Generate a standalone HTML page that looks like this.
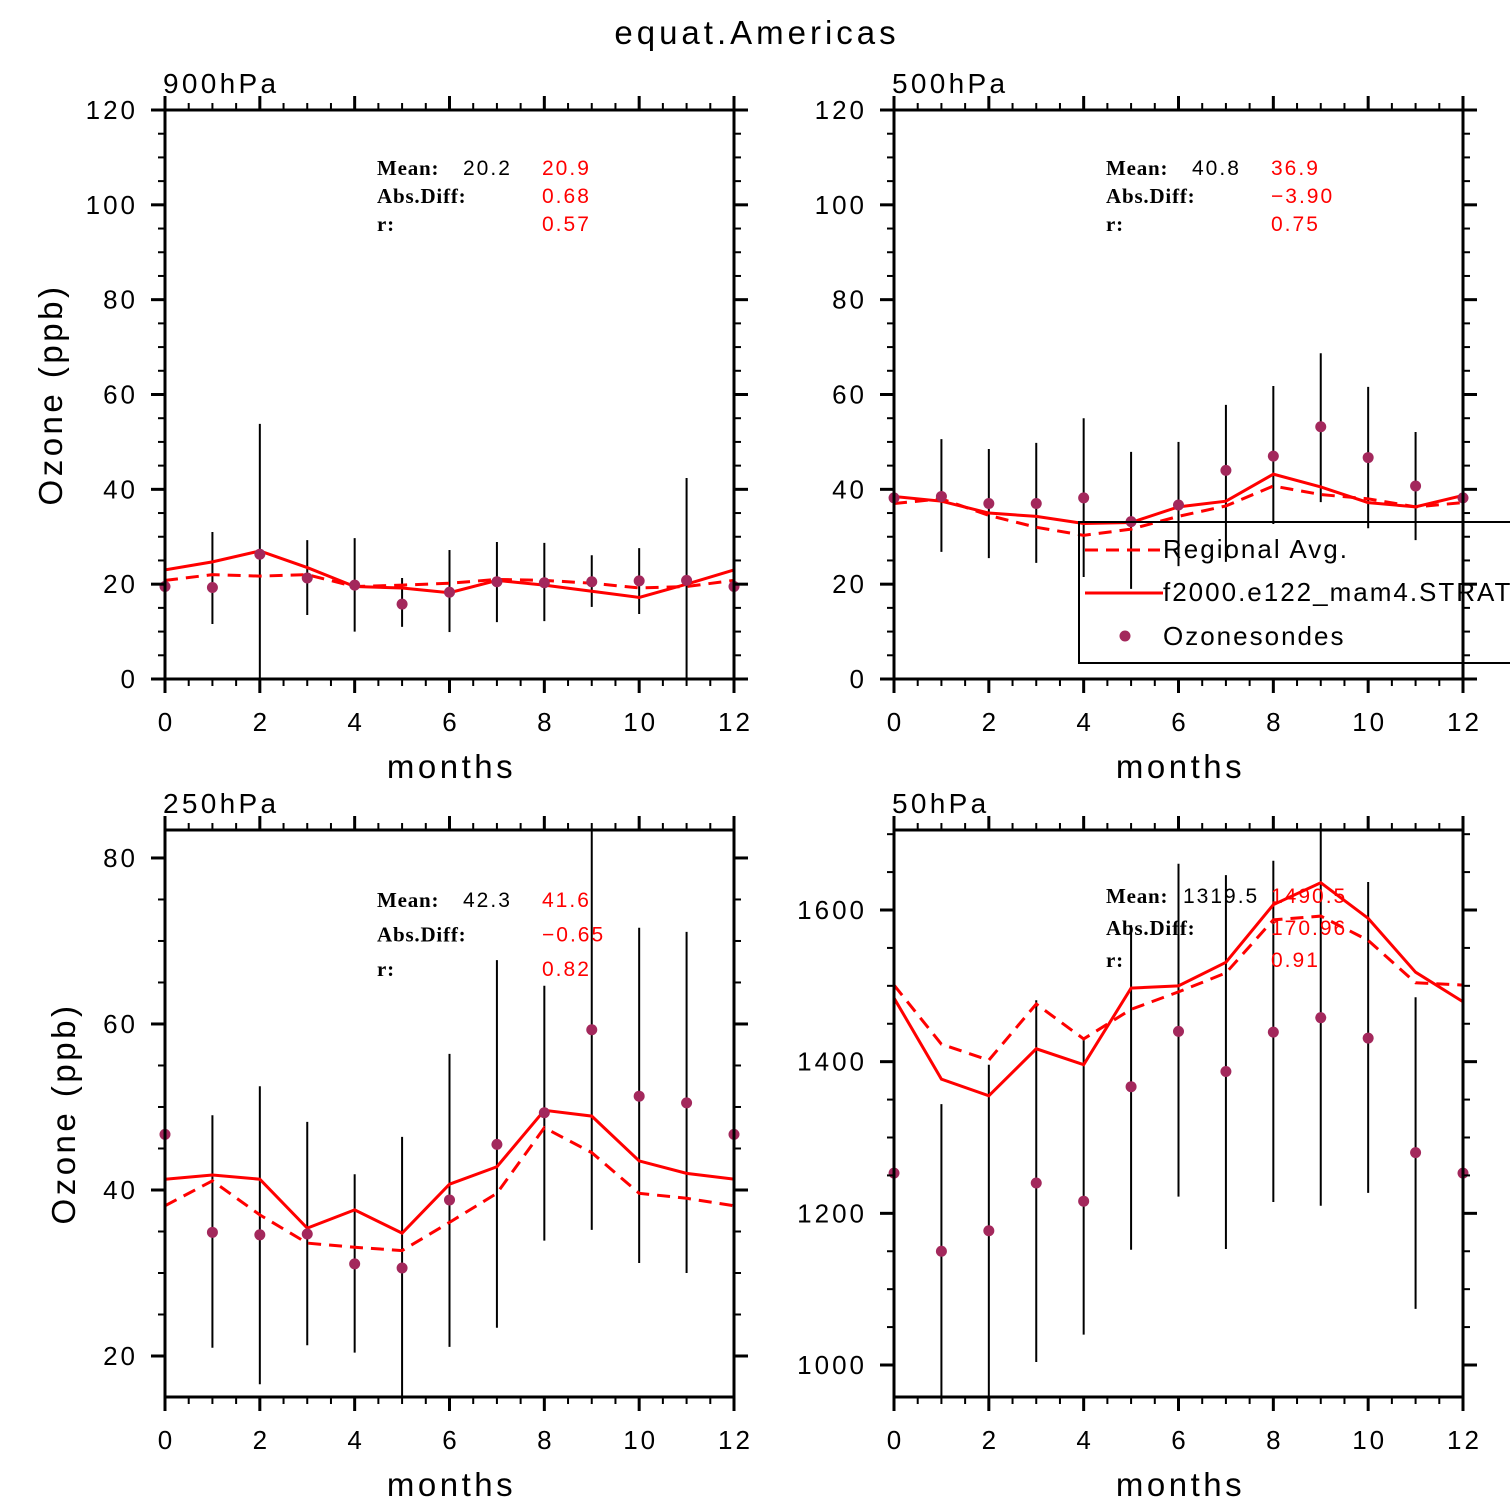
<!DOCTYPE html>
<html><head><meta charset="utf-8"><style>
html,body{margin:0;padding:0;background:#fff;}
svg{display:block;font-family:"Liberation Sans",sans-serif;}
.st{font-family:"Liberation Serif",serif;font-size:21px;letter-spacing:0.8px;}
</style></head><body>
<svg id="chart" width="1510" height="1510" viewBox="0 0 1510 1510" xmlns="http://www.w3.org/2000/svg">
<rect width="1510" height="1510" fill="#fff"/>
<text x="757" y="44" font-size="33" letter-spacing="4" text-anchor="middle" fill="#000">equat.Americas</text>
</svg>
<script>
// ---- data ----
const months = [0,1,2,3,4,5,6,7,8,9,10,11,12];
const xTicks = [0,2,4,6,8,10,12];
const p1Solid = [23,24.7,27,23.5,19.5,19.2,18.2,20.8,19.8,18.5,17.2,20,23];
const p1Dash  = [20.8,22,21.7,22,19.5,19.8,20.2,21,20.8,20.2,19.2,19.5,20.8];
const p1Obs   = [19.5,19.3,26.3,21.3,19.8,15.8,18.3,20.5,20.3,20.5,20.7,20.8,19.5];
const p1Hi    = [null,31,53.8,29.3,29.7,21.3,27.2,28.9,28.7,26.1,27.6,42.4,null];
const p1Lo    = [null,11.6,0,13.5,10,11,9.9,12,12.2,15.2,13.7,0,null];
const p1Ticks = [0,20,40,60,80,100,120];
const p2Solid = [38.5,37.5,35,34.3,32.8,33,36.3,37.5,43.2,40.5,37.2,36.3,38.7];
const p2Dash  = [37,38,34.5,32,30.3,31.6,34.3,36.5,40.7,38.9,38,36.3,37.2];
const p2Obs   = [38.2,38.5,37,37,38.2,33.2,36.7,44,47,53.2,46.7,40.7,38.2];
const p2Hi    = [null,50.6,48.5,49.8,55,47.9,50,57.8,61.8,68.7,61.6,52.1,null];
const p2Lo    = [null,26.8,25.5,24.5,21.5,19,23.8,24.7,32.7,37.3,31.8,29.3,null];
const p2Ticks = [0,20,40,60,80,100,120];
const p3Solid = [41.3,41.8,41.3,35.4,37.6,34.8,40.7,42.8,49.6,48.9,43.5,42.0,41.3];
const p3Dash  = [38.1,41.1,37,33.6,33.1,32.7,36.1,39.6,47.5,44.5,39.6,39,38.1];
const p3Obs   = [46.7,34.9,34.6,34.7,31.1,30.6,38.8,45.5,49.3,59.3,51.3,50.5,46.7];
const p3Hi    = [null,49,52.5,48.2,41.9,46.4,56.4,67.7,64.6,90,71.6,71.1,null];
const p3Lo    = [null,21,16.6,21.3,20.4,10,21.1,23.4,33.9,35.2,31.2,30,null];
const p3Ticks = [20,40,60,80];
const p4Solid = [1484,1377,1355,1417,1396,1497,1500,1531,1607,1636,1589,1518,1479];
const p4Dash  = [1501,1423,1402,1476,1430,1469,1492,1517,1587,1592,1560,1504,1501];
const p4Obs   = [1253,1150,1177,1240,1216,1367,1440,1387,1439,1458,1431,1280,1253];
const p4Hi    = [null,1344,1396,1481,1429,1580,1661,1646,1665,1750,1637,1485,null];
const p4Lo    = [null,900,900,1004,1040,1152,1222,1153,1215,1210,1227,1074,null];
const p4Ticks = [1000,1200,1400,1600];
const statLabels = ["Mean:","Abs.Diff:","r:"];
const statObsMean = ["20.2","40.8","42.3","1319.5"];
const statMean = ["20.9","36.9","41.6","1490.5"];
const statDiff = ["0.68","\u22123.90","\u22120.65","170.96"];
const statR = ["0.57","0.75","0.82","0.91"];

const NS="http://www.w3.org/2000/svg";
const svg=document.getElementById('chart');
function mk(tag,attrs,parent){const e=document.createElementNS(NS,tag);for(const k in attrs)e.setAttribute(k,attrs[k]);(parent||svg).appendChild(e);return e;}

const panels=[
 {id:'p1',label:'900hPa',x0:165,x1:734,yt:110,yb:679,vmin:0,vmax:120,minor:5,solid:p1Solid,dash:p1Dash,obs:p1Obs,hi:p1Hi,lo:p1Lo,ticks:p1Ticks,ylab:true,ylx:62,stats:[377,463,542,168,28]},
 {id:'p2',label:'500hPa',x0:894,x1:1463,yt:110,yb:679,vmin:0,vmax:120,minor:5,solid:p2Solid,dash:p2Dash,obs:p2Obs,hi:p2Hi,lo:p2Lo,ticks:p2Ticks,ylab:false,stats:[1106,1192,1271,168,28]},
 {id:'p3',label:'250hPa',x0:165,x1:734,yt:830,yb:1397,vmin:15.06,vmax:83.37,minor:5,solid:p3Solid,dash:p3Dash,obs:p3Obs,hi:p3Hi,lo:p3Lo,ticks:p3Ticks,ylab:true,ylx:75,stats:[377,463,542,900,34.5]},
 {id:'p4',label:'50hPa',x0:894,x1:1463,yt:830,yb:1397,vmin:957.8,vmax:1705.5,minor:50,solid:p4Solid,dash:p4Dash,obs:p4Obs,hi:p4Hi,lo:p4Lo,ticks:p4Ticks,ylab:false,stats:[1106,1183,1271,896,32]}
];

panels.forEach((p,pi)=>{
 const g=mk('g',{});
 
 
 const X=m=>p.x0+(m-0)/12*(p.x1-p.x0);
 const Y=v=>p.yb-(v-p.vmin)/(p.vmax-p.vmin)*(p.yb-p.yt);
 const cid='clip'+pi;
 const cp=mk('clipPath',{id:cid},g);mk('rect',{x:p.x0,y:p.yt,width:p.x1-p.x0,height:p.yb-p.yt},cp);
 const data=mk('g',{'clip-path':'url(#'+cid+')'},g);
 months.forEach((m,i)=>{ if(p.hi[i]==null) return;
  const l=mk('line',{x1:X(m),x2:X(m),y1:Y(p.hi[i]),y2:Y(p.lo[i]),stroke:'#000','stroke-width':2},data);
  
  
 });
 const pts=a=>months.map((m,i)=>X(m)+','+Y(a[i])).join(' ');
 const ld=mk('polyline',{points:pts(p.dash),fill:'none',stroke:'#f00','stroke-width':3,'stroke-dasharray':'13,8'},data);
 
 
 const ls=mk('polyline',{points:pts(p.solid),fill:'none',stroke:'#f00','stroke-width':3},data);
 
 
 months.forEach((m,i)=>{
  const c=mk('circle',{cx:X(m),cy:Y(p.obs[i]),r:5.5,fill:'#a3285c'},g);
  
  
 });
 const fr=mk('rect',{x:p.x0,y:p.yt,width:p.x1-p.x0,height:p.yb-p.yt,fill:'none',stroke:'#000','stroke-width':3},g);
 
 
 for(let m=0;m<=12;m+=0.5){const maj=(m%2===0);const len=maj?14:7;
  mk('line',{x1:X(m),x2:X(m),y1:p.yb,y2:p.yb+len,stroke:'#000','stroke-width':maj?3:2},g);
  mk('line',{x1:X(m),x2:X(m),y1:p.yt,y2:p.yt-len,stroke:'#000','stroke-width':maj?3:2},g);}
 xTicks.forEach(t=>{const tx=mk('text',{x:X(t)+1.5,y:p.yb+52,'font-size':26,'letter-spacing':3,'text-anchor':'middle'},g);tx.textContent=t;
  
  });
 const start=Math.ceil(p.vmin/p.minor)*p.minor;
 for(let v=start;v<=p.vmax+1e-6;v+=p.minor){const maj=p.ticks.includes(Math.round(v));const len=maj?14:7;
  mk('line',{x1:p.x0,x2:p.x0-len,y1:Y(v),y2:Y(v),stroke:'#000','stroke-width':maj?3:2},g);
  mk('line',{x1:p.x1,x2:p.x1+len,y1:Y(v),y2:Y(v),stroke:'#000','stroke-width':maj?3:2},g);}
 p.ticks.forEach(t=>{const ty=mk('text',{x:p.x0-27,y:Y(t)+9,'font-size':26,'letter-spacing':3,'text-anchor':'end'},g);ty.textContent=t;
  
  });
 const lab=mk('text',{x:p.x0-2,y:p.yt-17,'font-size':28,'letter-spacing':3.3},g);lab.textContent=p.label;
 
 
 const xl=mk('text',{x:(p.x0+p.x1)/2+2,y:p.yb+99,'font-size':33,'letter-spacing':3.5,'text-anchor':'middle'},g);xl.textContent='months';
 
 
 if(p.ylab){const yc=(p.yt+p.yb)/2;const yl=mk('text',{x:p.ylx,y:yc,'font-size':33,'letter-spacing':3.5,'text-anchor':'middle',transform:'rotate(-90 '+p.ylx+' '+yc+')'},g);
  yl.textContent='Ozone (ppb)';
  
  }
 const [sx,vx,rx,sy,dy]=p.stats;
 statLabels.forEach((s,k)=>{const t=mk('text',{x:sx,y:sy+k*dy+7,class:'st','font-weight':'bold'},g);t.textContent=s;
  
  });
 const ov=mk('text',{x:vx,y:sy+7,'font-size':21,'letter-spacing':2},g);ov.textContent=statObsMean[pi];
 
 
 [statMean[pi],statDiff[pi],statR[pi]].forEach((s,k)=>{const t=mk('text',{x:rx,y:sy+k*dy+7,'font-size':21,'letter-spacing':2,fill:'#f00'},g);t.textContent=s;
  
  });
});

const lg=mk('g',{});


mk('rect',{x:1079,y:522,width:500,height:141,fill:'none',stroke:'#000','stroke-width':2},lg);
mk('line',{x1:1085,x2:1160,y1:550,y2:550,stroke:'#f00','stroke-width':3,'stroke-dasharray':'13,8'},lg);
mk('line',{x1:1085,x2:1163,y1:593,y2:593,stroke:'#f00','stroke-width':3},lg);
mk('circle',{cx:1125,cy:636,r:5.5,fill:'#a3285c'},lg);
[['Regional Avg.',558],['f2000.e122_mam4.STRAT',601],['Ozonesondes',645]].forEach(([s,y])=>{
 const t=mk('text',{x:1163,y:y,'font-size':26,'letter-spacing':2},lg);t.textContent=s;
 
 
});
</script>
</body></html>
